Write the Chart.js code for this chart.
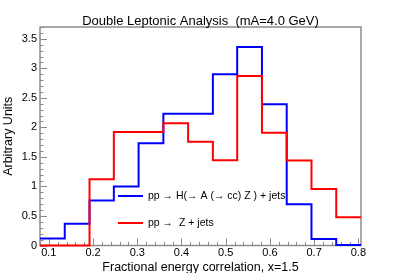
<!DOCTYPE html>
<html>
<head>
<meta charset="utf-8">
<script src="https://cdn.jsdelivr.net/npm/chart.js@4/dist/chart.umd.min.js"></script>
<style>
  html, body { margin: 0; padding: 0; background: #fff; }
  canvas { display: block; }
</style>
</head>
<body>
<canvas id="chart" width="401" height="273"></canvas>
<script>
// ヒストグラムのビン境界（13ビン）
const BIN_EDGES = [0.08, 0.136, 0.192, 0.247, 0.303, 0.359, 0.415, 0.471, 0.526, 0.582, 0.638, 0.694, 0.750, 0.806];

// pp -> H(-> A(-> cc) Z) + jets
const SIGNAL = [0.12, 0.37, 0.76, 1.00, 1.73, 2.23, 2.23, 2.90, 3.36, 2.39, 0.70, 0.11, 0.01];
// pp -> Z + jets
const ZJETS = [0, 0, 1.12, 1.92, 1.92, 2.07, 1.755, 1.445, 2.87, 1.91, 1.44, 0.955, 0.48];

const X_TICKS = [0.1, 0.2, 0.3, 0.4, 0.5, 0.6, 0.7, 0.8];
const X_TICK_LABELS = ['0.1', '0.2', '0.3', '0.4', '0.5', '0.6', '0.7', '0.8'];
const Y_TICKS = [0, 0.5, 1, 1.5, 2, 2.5, 3, 3.5];
const Y_TICK_LABELS = ['0', '0.5', '1', '1.5', '2', '2.5', '3', '3.5'];

const SERIES_NAMES = ['pp \u2192 H(\u2192 A (\u2192 cc) Z ) + jets', 'pp \u2192  Z + jets'];
const TITLE = 'Double Leptonic Analysis  (mA=4.0 GeV)';

const FONT = 'Liberation Sans, Arial, Helvetica, sans-serif';
const FRAME_COLOR = '#8c8c8c';

// ビンの左端に値を置き、最後に右端を足して階段線にする
function toSteps(values) {
  return BIN_EDGES.map((x, i) => ({ x, y: values[Math.min(i, values.length - 1)] }));
}

// ROOT 風の枠・内向きの目盛り・タイトル・凡例
const rootFrame = {
  id: 'rootFrame',
  beforeDatasetsDraw(chart) {
    const { ctx, chartArea: a, scales: { x, y } } = chart;
    ctx.save();
    ctx.strokeStyle = FRAME_COLOR;
    ctx.lineWidth = 1;
    ctx.beginPath();
    for (let k = -1; ; k++) {
      const v = 0.1 + 0.02 * k;
      if (v > x.max + 1e-9) break;
      if (v < x.min) continue;
      const px = Math.round(x.getPixelForValue(v)) + 0.5;
      const len = k % 5 === 0 ? 7 : 3.5;
      ctx.moveTo(px, a.bottom);
      ctx.lineTo(px, a.bottom - len);
    }
    for (let k = 0; ; k++) {
      const v = 0.1 * k;
      if (v > y.max + 1e-9) break;
      const py = Math.round(y.getPixelForValue(v)) + 0.5;
      const len = k % 5 === 0 ? 7 : 3.5;
      ctx.moveTo(a.left, py);
      ctx.lineTo(a.left + len, py);
    }
    ctx.stroke();
    ctx.lineWidth = 1.5;
    ctx.strokeRect(a.left, a.top, a.right - a.left, a.bottom - a.top);

    // タイトルは枠の中央に合わせる
    ctx.fillStyle = '#000';
    ctx.font = `13px ${FONT}`;
    ctx.textAlign = 'center';
    ctx.textBaseline = 'middle';
    ctx.fillText(TITLE, (a.left + a.right) / 2, 21);
    ctx.restore();
  },
  afterDatasetsDraw(chart) {
    const { ctx } = chart;
    const rows = [
      { color: '#0000ff', y: 196, text: SERIES_NAMES[0] },
      { color: '#ff0000', y: 223, text: SERIES_NAMES[1] },
    ];
    ctx.save();
    ctx.font = `10.5px ${FONT}`;
    ctx.textBaseline = 'middle';
    ctx.fillStyle = '#000';
    rows.forEach(r => {
      ctx.strokeStyle = r.color;
      ctx.lineWidth = 2;
      ctx.beginPath();
      ctx.moveTo(118, r.y);
      ctx.lineTo(143, r.y);
      ctx.stroke();
      ctx.fillText(r.text, 148, r.y);
    });
    ctx.restore();
  },
};

new Chart(document.getElementById('chart').getContext('2d'), {
  type: 'line',
  data: {
    datasets: [
      {
        label: SERIES_NAMES[0],
        data: toSteps(SIGNAL),
        borderColor: '#0000ff',
        borderWidth: 2,
        stepped: 'before',
        pointRadius: 0,
        fill: false,
        clip: false,
        order: 1,
      },
      {
        label: SERIES_NAMES[1],
        data: toSteps(ZJETS),
        borderColor: '#ff0000',
        borderWidth: 2,
        stepped: 'before',
        pointRadius: 0,
        fill: false,
        clip: false,
        order: 0,
      },
    ],
  },
  options: {
    responsive: false,
    animation: false,
    layout: { padding: { left: 0, right: 40, top: 27, bottom: 0 } },
    plugins: {
      legend: { display: false },
      tooltip: { enabled: false },
      title: { display: false },
    },
    scales: {
      x: {
        type: 'linear',
        min: BIN_EDGES[0],
        max: BIN_EDGES[BIN_EDGES.length - 1],
        grid: { display: false, drawTicks: false },
        border: { display: false },
        afterBuildTicks: s => { s.ticks = X_TICKS.map(v => ({ value: v })); },
        afterFit: s => { s.height = 27.5; },
        ticks: {
          autoSkip: false,
          maxRotation: 0,
          padding: 1,
          color: '#000',
          font: { family: FONT, size: 11 },
          callback: (v, i) => X_TICK_LABELS[i],
        },
        title: {
          display: true,
          text: 'Fractional energy correlation, x=1.5',
          color: '#000',
          font: { family: FONT, size: 12.5, lineHeight: 0.85 },
          padding: { top: 0, bottom: 0 },
        },
      },
      y: {
        type: 'linear',
        min: 0,
        max: 3.7,
        grid: { display: false, drawTicks: false },
        border: { display: false },
        afterBuildTicks: s => { s.ticks = Y_TICKS.map(v => ({ value: v })); },
        afterFit: s => { s.width = 40; },
        ticks: {
          autoSkip: false,
          padding: 3,
          color: '#000',
          font: { family: FONT, size: 11 },
          callback: (v, i) => Y_TICK_LABELS[i],
        },
        title: {
          display: true,
          text: 'Arbitrary Units',
          color: '#000',
          font: { family: FONT, size: 12.5, lineHeight: 1.0 },
          padding: { top: 2, bottom: 0 },
        },
      },
    },
  },
  plugins: [rootFrame],
});
</script>
</body>
</html>
